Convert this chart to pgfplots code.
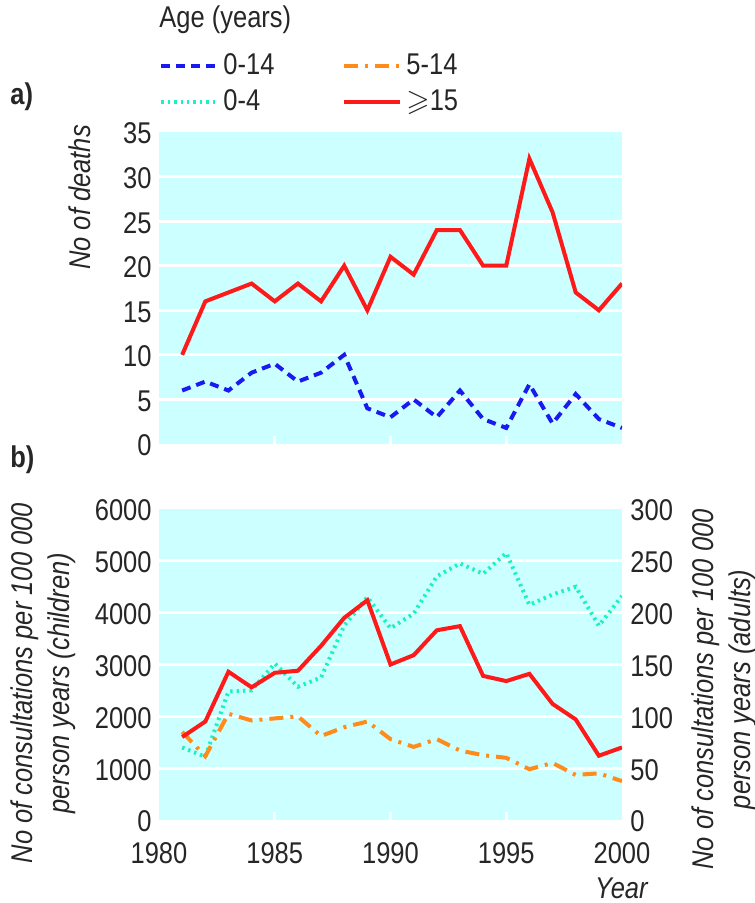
\documentclass[border=0pt]{standalone}
\usepackage{amssymb}
\usepackage{fontspec}
\setmainfont{Liberation Sans}[FakeStretch=0.85]
\usepackage{pgfplots}
\pgfplotsset{compat=1.18}
\definecolor{bgc}{HTML}{CCFFFF}
\definecolor{cred}{HTML}{FF1A1A}
\definecolor{cblue}{HTML}{1A1AF0}
\definecolor{cteal}{HTML}{1AF2C4}
\definecolor{corange}{HTML}{FF8C1A}
\definecolor{tickc}{HTML}{262626}
\newcommand{\fs}{\fontsize{15}{18.5}\selectfont}
\pgfplotsset{
  mystyle/.style={
    scale only axis, width=231.5pt,
    xmin=1980, xmax=2000,
    axis background/.style={fill=bgc},
    axis line style={draw=none},
    xtick={1985,1990,1995},
    xtick pos=left,
    tick align=inside, major tick length=4pt,
    xtick style={white, line width=1.5pt},
    ytick style={draw=none},
    ymajorgrids, major grid style={white, line width=1.5pt},
    tick label style={font=\fs, text=tickc},
    yticklabel style={inner sep=1pt, xshift=-2.5pt, yshift=-0.8pt},
    label style={font=\fs\itshape, text=tickc},
    /pgf/number format/assume math mode=true,
    /pgf/number format/1000 sep={},
    legend image code/.code={\draw[#1] (0pt,0pt) -- (28pt,0pt);},
  },
  sred/.style={cred, line width=2pt, solid},
  sblue/.style={cblue, line width=2pt, dash pattern=on 4.5pt off 3pt},
  steal/.style={cteal, line width=2pt, dash pattern=on 1.2pt off 2pt},
  sorange/.style={corange, line width=2pt, dash pattern=on 7pt off 3.5pt on 1.5pt off 3.5pt},
}
\begin{document}
\begin{tikzpicture}
\useasboundingbox (0,0) rectangle (377pt,451.5pt);
% Panel a
\begin{axis}[mystyle,
  at={(79.5pt,229.5pt)}, anchor=south west, height=156pt,
  ymin=0, ymax=35,
  ytick={5,10,...,30}, extra y ticks={0,35}, extra y tick style={grid=none},
  xticklabels={},
  ylabel={No of deaths},
  ylabel style={at={(axis description cs:-0.172,0.79)}, anchor=center},
  legend columns=2,
  legend cell align=left,
  legend style={draw=none, fill=none, font=\fs, text=tickc,
    at={(axis description cs:0,1.155)}, anchor=west,
    inner xsep=0pt, inner ysep=0pt, row sep=2pt,
    /tikz/every even column/.append style={column sep=32pt}},
]
\addlegendimage{sblue}
\addlegendimage{sorange}
\addlegendimage{steal}
\addlegendimage{sred}
\addplot[sred, forget plot] coordinates {(1981,10)(1982,16)(1983,17)(1984,18)(1985,16)(1986,18)(1987,16)(1988,20)(1989,15)(1990,21)(1991,19)(1992,24)(1993,24)(1994,20)(1995,20)(1996,32)(1997,26)(1998,17)(1999,15)(2000,18)};
\addplot[sblue, forget plot] coordinates {(1981,6)(1982,7)(1983,6)(1984,8)(1985,9)(1986,7)(1987,8)(1988,10)(1989,4)(1990,3)(1991,5)(1992,3)(1993,6)(1994,2.8)(1995,1.8)(1996,6.7)(1997,2.3)(1998,5.6)(1999,2.8)(2000,1.8)};
\legend{0-14, 5-14, 0-4, {$\geqslant$15}}
\end{axis}
% Panel b left
\begin{axis}[mystyle,
  at={(79.5pt,41.5pt)}, anchor=south west, height=155.5pt,
  ymin=0, ymax=6000,
  ytick={1000,2000,...,5000}, extra y ticks={0,6000}, extra y tick style={grid=none},
  extra x ticks={1980,2000}, extra x tick style={major tick length=0pt},
  xticklabel style={inner sep=1pt, yshift=-10pt},
  ylabel={No of consultations per 100 000\\person years (children)},
  ylabel style={align=center, at={(axis description cs:-0.25,0.44)}, anchor=center},
]
\addplot[steal] coordinates {(1981,1400)(1982,1220)(1983,2480)(1984,2500)(1985,3020)(1986,2570)(1987,2750)(1988,3750)(1989,4300)(1990,3700)(1991,3980)(1992,4700)(1993,4950)(1994,4750)(1995,5150)(1996,4150)(1997,4350)(1998,4500)(1999,3750)(2000,4320)};
\addplot[sorange] coordinates {(1981,1700)(1982,1230)(1983,2050)(1984,1920)(1985,1960)(1986,2000)(1987,1620)(1988,1790)(1989,1900)(1990,1560)(1991,1410)(1992,1560)(1993,1340)(1994,1250)(1995,1200)(1996,980)(1997,1100)(1998,870)(1999,900)(2000,750)};
\end{axis}
% Panel b right
\begin{axis}[
  scale only axis, width=231.5pt, height=155.5pt,
  at={(79.5pt,41.5pt)}, anchor=south west,
  xmin=1980, xmax=2000, ymin=0, ymax=300,
  axis x line=none, axis y line*=right,
  axis line style={draw=none},
  ytick={0,50,...,300}, ytick style={draw=none},
  tick label style={font=\fs, text=tickc},
  yticklabel style={inner sep=1pt, xshift=3pt, yshift=-0.8pt},
  label style={font=\fs\itshape, text=tickc},
  /pgf/number format/assume math mode=true,
  ylabel={No of consultations per 100 000\\person years (adults)},
  ylabel style={align=center, at={(axis description cs:1.22,0.42)}, anchor=center, rotate=0},
]
\addplot[sred] coordinates {(1981,80)(1982,95)(1983,143)(1984,128)(1985,142)(1986,144)(1987,168)(1988,195)(1989,212)(1990,150)(1991,159)(1992,183)(1993,187)(1994,139)(1995,134)(1996,141)(1997,112)(1998,97)(1999,62)(2000,70)};
\end{axis}
\node[anchor=west, inner sep=0pt, font=\fs, text=tickc] at (79.5pt,441.5pt) {Age (years)};
\node[anchor=west, inner sep=0pt, font=\fs\bfseries, text=tickc] at (5pt,403pt) {a)};
\node[anchor=west, inner sep=0pt, font=\fs\bfseries, text=tickc] at (5pt,221.5pt) {b)};
\node[anchor=east, inner sep=0pt, font=\fs\itshape, text=tickc] at (324pt,7.5pt) {Year};
\end{tikzpicture}
\end{document}
